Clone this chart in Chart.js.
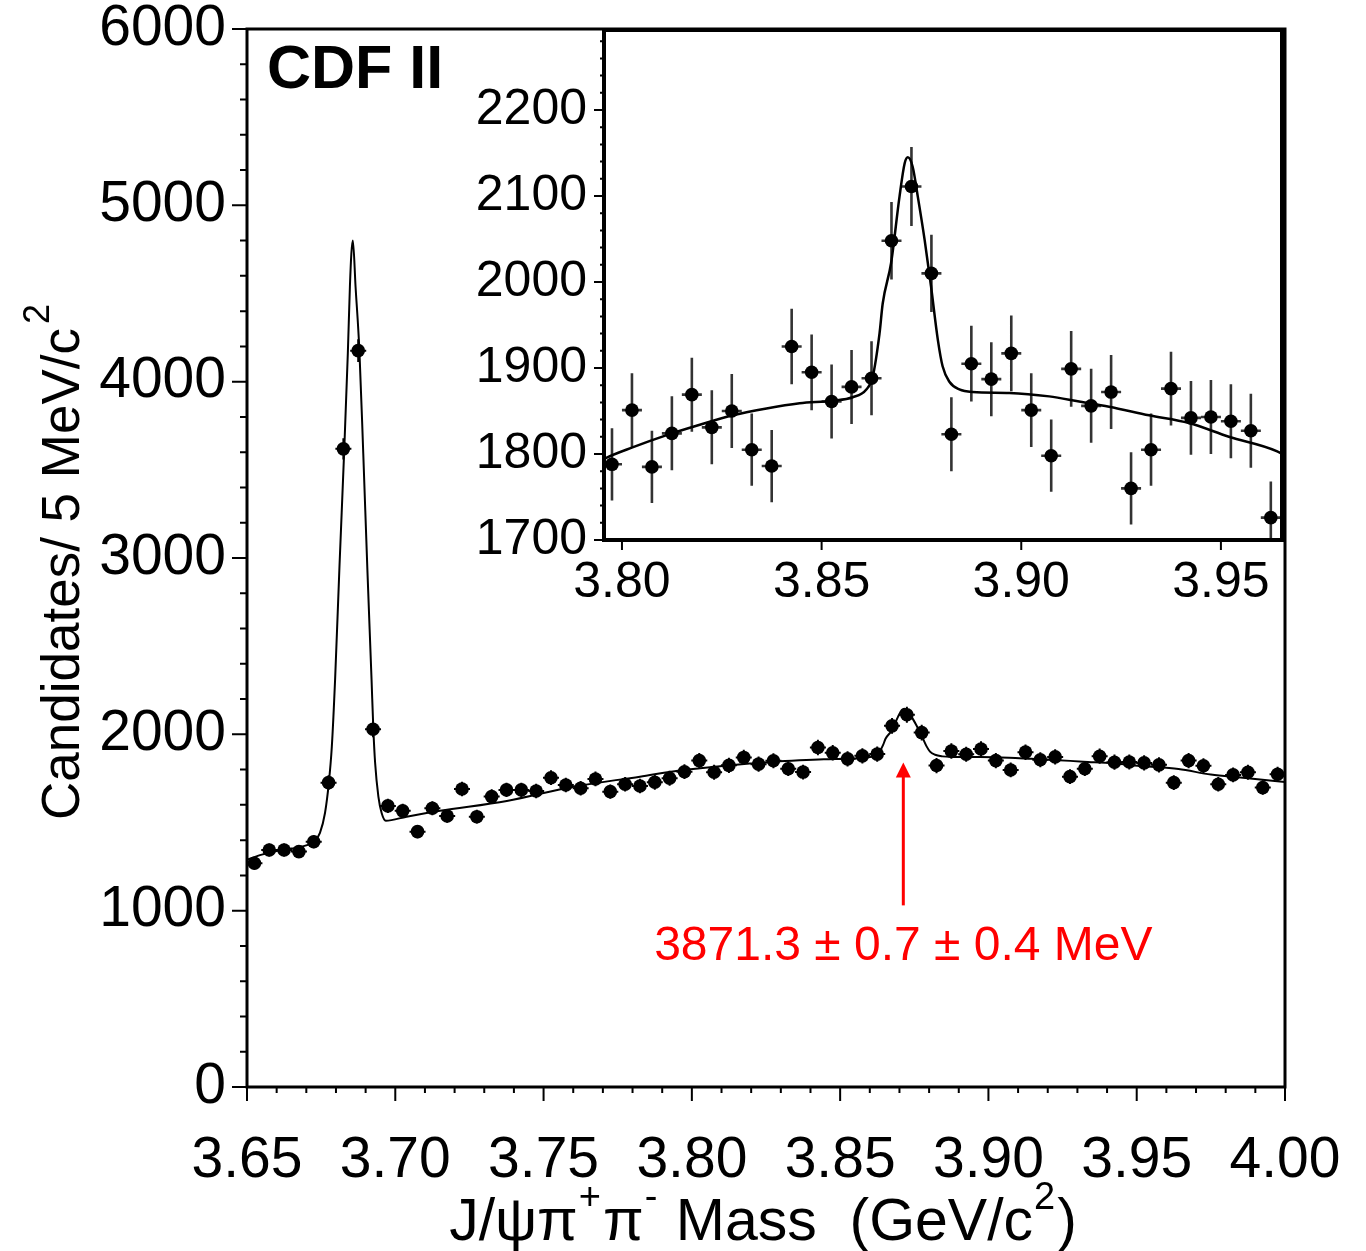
<!DOCTYPE html>
<html><head><meta charset="utf-8">
<script src="https://cdn.jsdelivr.net/npm/chart.js@4.4.1/dist/chart.umd.min.js"></script>
<style>
html,body{margin:0;padding:0;background:#fff;}
#wrap{position:relative;width:1366px;height:1251px;overflow:hidden;background:#fff;}
#main{position:absolute;left:0;top:0;}
#inset{position:absolute;left:440px;top:0;}
</style></head><body>
<div id="wrap"><canvas id="main" width="1366" height="1251"></canvas><canvas id="inset" width="860" height="620"></canvas></div>
<script>
// ---------------- DATA ----------------
const massBins = [3.6525,3.6575,3.6625,3.6675,3.6725,3.6775,3.6825,3.6875,3.6925,3.6975,
  3.7025,3.7075,3.7125,3.7175,3.7225,3.7275,3.7325,3.7375,3.7425,3.7475,
  3.7525,3.7575,3.7625,3.7675,3.7725,3.7775,3.7825,3.7875,3.7925,3.7975,
  3.8025,3.8075,3.8125,3.8175,3.8225,3.8275,3.8325,3.8375,3.8425,3.8475,
  3.8525,3.8575,3.8625,3.8675,3.8725,3.8775,3.8825,3.8875,3.8925,3.8975,
  3.9025,3.9075,3.9125,3.9175,3.9225,3.9275,3.9325,3.9375,3.9425,3.9475,
  3.9525,3.9575,3.9625,3.9675,3.9725,3.9775,3.9825,3.9875,3.9925,3.9975];
const counts = [1269,1344,1344,1335,1391,1726,3619,4176,2029,1594,
  1566,1448,1581,1537,1690,1533,1647,1685,1685,1679,
  1754,1713,1694,1747,1675,1717,1707,1728,1751,1788,
  1851,1785,1824,1869,1831,1850,1805,1786,1925,1895,
  1861,1878,1888,2048,2111,2010,1823,1905,1887,1917,
  1851,1798,1899,1856,1872,1760,1805,1876,1842,1843,
  1838,1827,1726,1851,1822,1717,1770,1785,1698,1774];
const countErrors = [36,37,37,37,37,42,60,65,45,40,
  40,38,40,39,41,39,41,41,41,41,
  42,41,41,42,41,41,41,42,42,42,
  43,42,43,43,43,43,42,42,44,44,
  43,43,43,45,46,45,43,44,43,44,
  43,42,44,43,43,42,42,43,43,43,
  43,43,42,43,43,41,42,42,41,42];
// fit curve
const fitMass = [3.650,3.655,3.660,3.665,3.670,3.6726,3.6746,3.6763,3.6776,3.6786,
  3.6797,3.6812,3.6828,3.6840,3.6847,3.6852,3.6857,3.6866,3.6879,3.6892,
  3.6906,3.6920,3.6926,3.6932,3.6943,3.6954,3.6968,3.7038,3.7151,3.7376,
  3.7600,3.7825,3.7958,3.8028,3.8112,3.8195,3.8278,3.8362,3.8445,3.8528,
  3.8578,3.8612,3.8628,3.8645,3.8653,3.8674,3.8695,3.8708,3.8716,3.8728,
  3.8741,3.8758,3.8774,3.8791,3.8803,3.8820,3.8845,3.8878,3.8970,3.9070,
  3.9145,3.9220,3.9320,3.9420,3.9520,3.9641,3.9750,3.9850,4.0000];
const fitCounts = [1290,1318,1338,1352,1370,1391,1441,1554,1726,1930,
  2309,2960,3619,4162,4540,4729,4800,4540,4176,3594,
  2930,2309,2031,1838,1647,1554,1510,1533,1566,1622,
  1703,1760,1795,1808,1822,1834,1845,1853,1859,1862,
  1866,1875,1890,1940,1975,2022,2099,2138,2145,2134,
  2099,2049,1995,1933,1902,1884,1875,1872,1871,1867,
  1861,1855,1845,1836,1820,1803,1772,1755,1730];
const mainXTicks = [3.65,3.70,3.75,3.80,3.85,3.90,3.95,4.00];
const mainXTickLabels = ['3.65','3.70','3.75','3.80','3.85','3.90','3.95','4.00'];
const mainYTicks = [0,1000,2000,3000,4000,5000,6000];
const mainYTickLabels = ['0','1000','2000','3000','4000','5000','6000'];
const insetXTicks = [3.80,3.85,3.90,3.95];
const insetXTickLabels = ['3.80','3.85','3.90','3.95'];
const insetYTicks = [1700,1800,1900,2000,2100,2200];
const insetYTickLabels = ['1700','1800','1900','2000','2100','2200'];
const peakMass = 3.8713;
const arrowFromCount = 1030, arrowToCount = 1840, peakLabelCount = 720;
const peakLabel = '3871.3 \u00b1 0.7 \u00b1 0.4 MeV';
const experimentLabel = 'CDF II';

// ---------------- DRAWING ----------------
const FONT = '"Liberation Sans", Arial, Helvetica, sans-serif';

function axisDecor(o){
  return {
    id:'axisDecor',
    beforeDraw(chart){
      const {ctx, chartArea:a} = chart;
      ctx.save(); ctx.fillStyle='#fff';
      if(o.fillAll) ctx.fillRect(0,0,chart.width,chart.height);
      else ctx.fillRect(a.left,a.top,a.right-a.left,a.bottom-a.top);
      ctx.restore();
    },
    afterDraw(chart){
      const {ctx, chartArea:a, scales:{x,y}} = chart;
      ctx.save(); ctx.strokeStyle='#000'; ctx.lineWidth=o.tickWidth;
      ctx.beginPath();
      const hy=(v,len)=>{const p=y.getPixelForValue(v); ctx.moveTo(a.left,p); ctx.lineTo(a.left-len,p);};
      const vx=(v,len)=>{const p=x.getPixelForValue(v); ctx.moveTo(p,a.bottom); ctx.lineTo(p,a.bottom+len);};
      o.yMajor.forEach(v=>hy(v,o.yMajorLen));
      o.yMinor.forEach(v=>hy(v,o.yMinorLen));
      o.xMajor.forEach(v=>vx(v,o.xMajorLen));
      o.xMinor.forEach(v=>vx(v,o.xMinorLen));
      ctx.stroke();
      ctx.lineWidth=o.frameWidth;
      ctx.strokeRect(a.left,a.top,a.right-a.left,a.bottom-a.top);
      ctx.restore();
    }
  };
}

function errorBars(o){
  return {
    id:'errorBars',
    beforeDatasetsDraw(chart){
      const {ctx, chartArea:a, scales:{x,y}} = chart;
      ctx.save();
      ctx.beginPath(); ctx.rect(a.left,a.top,a.right-a.left,a.bottom-a.top); ctx.clip();
      ctx.strokeStyle=o.color; ctx.lineWidth=o.width;
      ctx.beginPath();
      massBins.forEach((m,i)=>{
        const px=x.getPixelForValue(m);
        const py=y.getPixelForValue(counts[i]);
        ctx.moveTo(px,y.getPixelForValue(counts[i]-countErrors[i]));
        ctx.lineTo(px,y.getPixelForValue(counts[i]+countErrors[i]));
        ctx.moveTo(px-o.hw,py); ctx.lineTo(px+o.hw,py);
      });
      ctx.stroke();
      ctx.restore();
    }
  };
}

const mainTexts = {
  id:'mainTexts',
  afterDraw(chart){
    const {ctx, chartArea:a, scales:{x,y}} = chart;
    ctx.save();
    // CDF II
    ctx.fillStyle='#000';
    ctx.font='bold 61px '+FONT; ctx.textAlign='left'; ctx.textBaseline='alphabetic';
    ctx.fillText(experimentLabel, a.left+20, a.top+59);
    // arrow + label
    const px=x.getPixelForValue(peakMass);
    const y0=y.getPixelForValue(arrowFromCount), y1=y.getPixelForValue(arrowToCount);
    ctx.strokeStyle='#ff0000'; ctx.fillStyle='#ff0000'; ctx.lineWidth=3;
    ctx.beginPath(); ctx.moveTo(px,y0); ctx.lineTo(px,y1+12); ctx.stroke();
    ctx.beginPath(); ctx.moveTo(px,y1); ctx.lineTo(px-7.5,y1+15); ctx.lineTo(px+7.5,y1+15); ctx.closePath(); ctx.fill();
    ctx.font='48px '+FONT; ctx.textAlign='center';
    ctx.fillText(peakLabel, px, y.getPixelForValue(peakLabelCount));
    // Y title
    ctx.fillStyle='#000';
    ctx.save();
    ctx.translate(79, 820); ctx.rotate(-Math.PI/2);
    ctx.font='53px '+FONT; ctx.textAlign='left';
    const yt='Candidates/ 5 MeV/c';
    ctx.fillText(yt,0,0);
    const w=ctx.measureText(yt).width;
    ctx.font='36px '+FONT; ctx.fillText('2', w+4, -30);
    ctx.restore();
    // X title
    const pieces=[['J/\u03c8\u03c0',0],['+',1],['\u03c0',0],['-',1],[' Mass  (GeV/c',0],['2',1],[')',0]];
    let total=0;
    pieces.forEach(p=>{ctx.font=(p[1]?'38px ':'59px ')+FONT; p.w=ctx.measureText(p[0]).width+(p[1]?3:0); total+=p.w;});
    let cx=763-total/2;
    ctx.textAlign='left';
    pieces.forEach(p=>{ctx.font=(p[1]?'38px ':'59px ')+FONT; ctx.fillText(p[0], cx+(p[1]?1:0), 1240-(p[1]?31:0)); cx+=p.w;});
    ctx.restore();
  }
};

function minorList(start, step, n, every){ const r=[]; for(let i=1;i<n;i++){ if(i%every) r.push(+(start+i*step).toFixed(4)); } return r; }

const fitX = (h)=>s=>{s.height=h; s.paddingLeft=0; s.paddingRight=0; s.paddingTop=0; s.paddingBottom=0;};
const fitY = (w)=>s=>{s.width=w; s.paddingLeft=0; s.paddingRight=0; s.paddingTop=0; s.paddingBottom=0;};

const mainChart = new Chart(document.getElementById('main'), {
  type:'scatter',
  data:{datasets:[
    {label:'data', data:massBins.map((m,i)=>({x:m,y:counts[i]})), pointRadius:6.8, pointHoverRadius:6.8,
     pointBackgroundColor:'#000', pointBorderWidth:0, showLine:false},
    {label:'fit', type:'line', data:fitMass.map((m,i)=>({x:m,y:fitCounts[i]})), borderColor:'#000', borderWidth:2,
     pointRadius:0, cubicInterpolationMode:'monotone', fill:false}
  ]},
  options:{
    responsive:false, animation:false, devicePixelRatio:1,
    layout:{padding:{left:0,top:29,right:81,bottom:0}},
    plugins:{legend:{display:false}, tooltip:{enabled:false}},
    events:[],
    scales:{
      x:{type:'linear', min:3.65, max:4.0,
         afterBuildTicks:s=>{s.ticks=mainXTicks.map(v=>({value:v}));},
         afterFit:fitX(164),
         grid:{display:false,drawTicks:false}, border:{display:false},
         ticks:{font:{family:FONT,size:57}, color:'#000', padding:40, maxRotation:0, autoSkip:false,
                callback:(v,i)=>mainXTickLabels[i]}},
      y:{type:'linear', min:0, max:6000,
         afterBuildTicks:s=>{s.ticks=mainYTicks.map(v=>({value:v}));},
         afterFit:fitY(247),
         grid:{display:false,drawTicks:false}, border:{display:false},
         ticks:{font:{family:FONT,size:57}, color:'#000', padding:21, autoSkip:false,
                callback:(v,i)=>mainYTickLabels[i]}}
    }
  },
  plugins:[axisDecor({fillAll:true, tickWidth:2, frameWidth:3,
     yMajor:mainYTicks, yMinor:minorList(0,200,30,5), yMajorLen:15, yMinorLen:7,
     xMajor:mainXTicks, xMinor:minorList(3.65,0.01,35,5), xMajorLen:14, xMinorLen:6}),
     errorBars({color:'#000', width:2, hw:8}), mainTexts]
});

const insetChart = new Chart(document.getElementById('inset'), {
  type:'scatter',
  data:{datasets:[
    {label:'data', data:massBins.map((m,i)=>({x:m,y:counts[i]})), pointRadius:6.8, pointHoverRadius:6.8,
     pointBackgroundColor:'#000', pointBorderWidth:0, showLine:false, clip:0},
    {label:'fit', type:'line', data:fitMass.map((m,i)=>({x:m,y:fitCounts[i]})), borderColor:'#000', borderWidth:2.5,
     pointRadius:0, cubicInterpolationMode:'monotone', fill:false, clip:0}
  ]},
  options:{
    responsive:false, animation:false, devicePixelRatio:1,
    layout:{padding:{left:0,top:30,right:18,bottom:0}},
    plugins:{legend:{display:false}, tooltip:{enabled:false}},
    events:[],
    scales:{
      x:{type:'linear', min:3.7955, max:3.9653,
         afterBuildTicks:s=>{s.ticks=insetXTicks.map(v=>({value:v}));},
         afterFit:fitX(80),
         grid:{display:false,drawTicks:false}, border:{display:false},
         ticks:{font:{family:FONT,size:50}, color:'#000', padding:13, maxRotation:0, autoSkip:false,
                callback:(v,i)=>insetXTickLabels[i]}},
      y:{type:'linear', min:1700, max:2293,
         afterBuildTicks:s=>{s.ticks=insetYTicks.map(v=>({value:v}));},
         afterFit:fitY(164),
         grid:{display:false,drawTicks:false}, border:{display:false},
         ticks:{font:{family:FONT,size:50}, color:'#000', padding:17, autoSkip:false,
                callback:(v,i)=>insetYTickLabels[i]}}
    }
  },
  plugins:[axisDecor({fillAll:false, tickWidth:2, frameWidth:4,
     yMajor:insetYTicks, yMinor:minorList(1700,20,30,5), yMajorLen:10, yMinorLen:4,
     xMajor:insetXTicks, xMinor:[], xMajorLen:10, xMinorLen:0}),
     errorBars({color:'#333', width:2.6, hw:10})]
});
</script>
</body></html>
